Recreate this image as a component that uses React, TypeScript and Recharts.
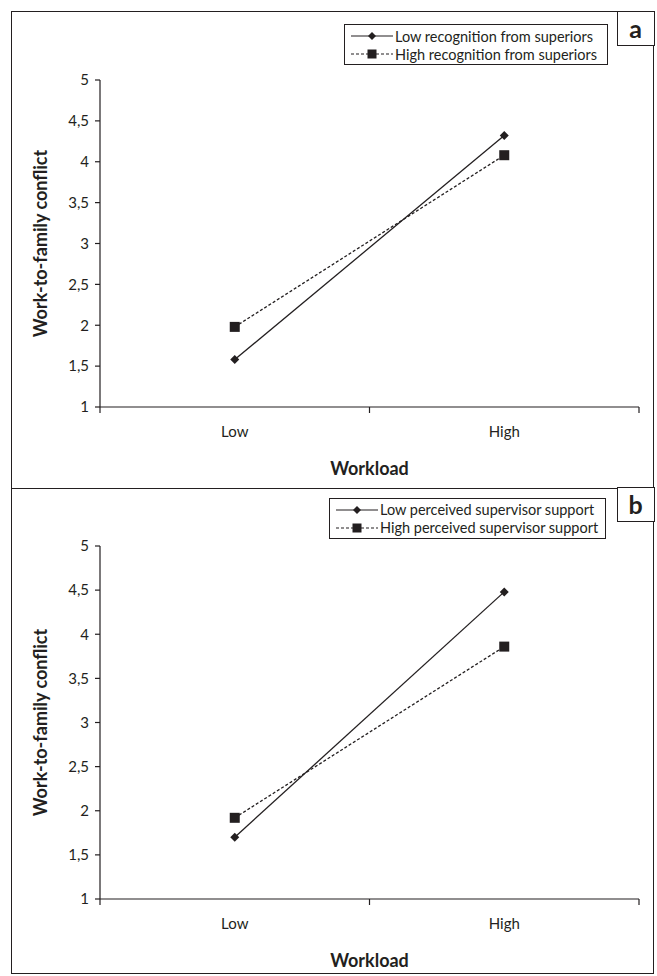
import React from 'react';
import { LineChart, Line, XAxis, YAxis } from 'recharts';

// values
const categories = ['Low', 'High'];
const yTicks = [1, 1.5, 2, 2.5, 3, 3.5, 4, 4.5, 5];
const lowRecognition = [1.58, 4.32];
const highRecognition = [1.98, 4.08];
const lowSupport = [1.7, 4.48];
const highSupport = [1.92, 3.86];

const INK = '#231f20';
const FONT = 'Lato, "Open Sans", sans-serif';

const Diamond = ({ cx, cy, r = 4.5 }: any) => (
  <path d={`M${cx},${cy - r}L${cx + r},${cy}L${cx},${cy + r}L${cx - r},${cy}Z`} fill={INK} />
);
const Square = ({ cx, cy, s = 10 }: any) => (
  <rect x={cx - s / 2} y={cy - s / 2} width={s} height={s} fill={INK} />
);

const fmt = (v: number) => String(v).replace('.', ',');

function LegendBox({ labels, left, top, width }: any) {
  return (
    <div
      style={{
        position: 'absolute',
        left,
        top,
        width,
        height: 41,
        border: `1px solid ${INK}`,
        boxSizing: 'border-box',
        background: '#fff',
        fontFamily: FONT,
        fontSize: 14.5,
        color: INK,
      }}
    >
      {labels.map((lab: string, i: number) => (
        <div key={lab} style={{ display: 'flex', alignItems: 'center', height: 18, marginTop: i === 0 ? 2 : 0 }}>
          <svg width={42} height={14} style={{ marginLeft: 6, flex: 'none' }}>
            <line x1={0} y1={7} x2={42} y2={7} stroke={INK} strokeWidth={1.2} strokeDasharray={i === 0 ? undefined : '3 2'} />
            {i === 0 ? <Diamond cx={21} cy={7} r={4} /> : <Square cx={21} cy={7} s={9} />}
          </svg>
          <span style={{ marginLeft: 2, whiteSpace: 'nowrap' }}>{lab}</span>
        </div>
      ))}
    </div>
  );
}

function Panel({ letter, labels, solid, dashed, top, height, plotTop, axisH, labelOffset, legendLeft, legendTop, legendW }: any) {
  const width = 643;
  const plotW = 539;
  const half = plotW / 4;
  const data = categories.map((c, i) => ({ cat: c, solid: solid[i], dashed: dashed[i] }));

  const XTick = ({ x, y, payload, index }: any) => (
    <g>
      <text x={x} y={y + 25} dy="0.35em" textAnchor="middle" fill={INK} fontSize={15} fontFamily={FONT}>
        {payload.value}
      </text>
      {index === 0 && <line x1={x - half} x2={x - half} y1={y} y2={y + 6} stroke={INK} strokeWidth={1.2} />}
      <line x1={x + half} x2={x + half} y1={y} y2={y + 6} stroke={INK} strokeWidth={1.2} />
    </g>
  );

  return (
    <div
      style={{
        position: 'absolute',
        left: 11,
        top,
        width,
        height,
        border: `1.5px solid ${INK}`,
        boxSizing: 'border-box',
      }}
    >
      <div style={{ position: 'absolute', left: -1.5, top: -1.5 }}>
        <LineChart width={width} height={height} data={data} margin={{ top: plotTop, right: 15, bottom: 0, left: 0 }}>
          <XAxis
            dataKey="cat"
            padding={{ left: half, right: half }}
            stroke={INK}
            strokeWidth={1.2}
            tickLine={false}
            tickSize={0}
            tickMargin={0}
            height={axisH}
            tick={<XTick />}
            interval={0}
            label={{ value: 'Workload', position: 'insideBottom', offset: labelOffset, fill: INK, fontSize: 18, fontWeight: 700, fontFamily: FONT }}
          />
          <YAxis
            domain={[1, 5]}
            ticks={yTicks}
            width={89}
            stroke={INK}
            strokeWidth={1.2}
            tickSize={5}
            tickMargin={6}
            tickFormatter={fmt}
            tick={{ fill: INK, fontSize: 15, fontFamily: FONT }}
            label={{
              value: 'Work-to-family conflict',
              angle: -90,
              position: 'insideLeft',
              offset: 30,
              fill: INK,
              fontSize: 18,
              fontWeight: 700,
              fontFamily: FONT,
              style: { textAnchor: 'middle' },
            }}
          />
          <Line
            dataKey="solid"
            stroke={INK}
            strokeWidth={1.3}
            isAnimationActive={false}
            dot={(p: any) => <Diamond key={`d${p.index}`} cx={p.cx} cy={p.cy} />}
          />
          <Line
            dataKey="dashed"
            stroke={INK}
            strokeWidth={1.3}
            strokeDasharray="3 2"
            isAnimationActive={false}
            dot={(p: any) => <Square key={`s${p.index}`} cx={p.cx} cy={p.cy} />}
          />
        </LineChart>
      </div>
      <LegendBox labels={labels} left={legendLeft} top={legendTop} width={legendW} />
      <div
        style={{
          position: 'absolute',
          right: -1.5,
          top: -1.5,
          width: 38,
          height: 35,
          border: `1.5px solid ${INK}`,
          boxSizing: 'border-box',
          fontFamily: FONT,
          fontWeight: 700,
          fontSize: 25,
          color: INK,
          display: 'flex',
          alignItems: 'center',
          justifyContent: 'center',
          lineHeight: 1,
          background: '#fff',
        }}
      >
        {letter}
      </div>
    </div>
  );
}

export default function App() {
  return (
    <div style={{ position: 'absolute', left: 0, top: 0, width: 657, height: 976, background: '#fff' }}>
      <Panel
        letter="a"
        labels={['Low recognition from superiors', 'High recognition from superiors']}
        solid={lowRecognition}
        dashed={highRecognition}
        top={11}
        height={478}
        plotTop={69}
        axisH={82}
        labelOffset={14}
        legendLeft={332}
        legendTop={12}
        legendW={264}
      />
      <Panel
        letter="b"
        labels={['Low perceived supervisor support', 'High perceived supervisor support']}
        solid={lowSupport}
        dashed={highSupport}
        top={487.5}
        height={486}
        plotTop={59}
        axisH={74}
        labelOffset={6}
        legendLeft={317}
        legendTop={9}
        legendW={277}
      />
    </div>
  );
}
